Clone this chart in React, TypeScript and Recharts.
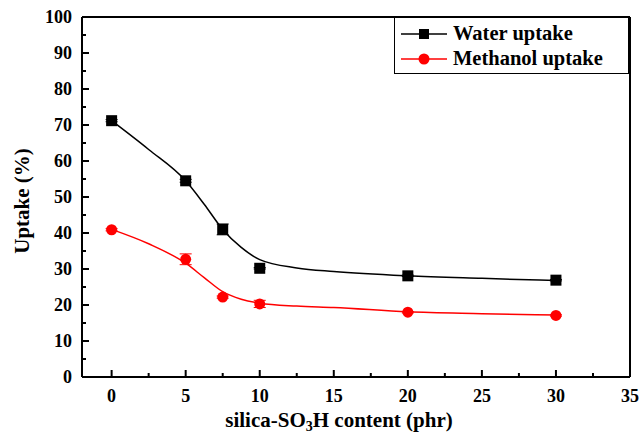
import React from 'react';
import { ComposedChart, Line, Scatter, XAxis, YAxis, ErrorBar, ReferenceLine } from 'recharts';

const contents = [0, 5, 7.5, 10, 20, 30];
const waterUptake = [71.2, 54.5, 41.0, 30.2, 28.1, 26.9];
const waterErr = [0.3, 0.4, 1.5, 0.2, 0.2, 0.2];
const methanolUptake = [40.9, 32.7, 22.2, 20.3, 18.0, 17.1];
const methanolErr = [0.3, 1.5, 0.3, 1.0, 0.2, 0.2];

const fitX = [0, 2.5, 5, 6.25, 7.5, 8.75, 10, 12.5, 15, 20, 25, 30];
const waterFit = [71.2, 63.2, 54.5, 48.0, 41.0, 36.0, 32.6, 30.3, 29.3, 28.1, 27.4, 26.8];
const methanolFit = [41.0, 37.0, 31.6, 27.6, 23.7, 21.6, 20.5, 19.7, 19.3, 18.1, 17.6, 17.2];

const xTicks = [0, 2.5, 5, 7.5, 10, 12.5, 15, 17.5, 20, 22.5, 25, 27.5, 30, 32.5, 35];
const yTicks = [0, 5, 10, 15, 20, 25, 30, 35, 40, 45, 50, 55, 60, 65, 70, 75, 80, 85, 90, 95, 100];

const seriesNames = ['Water uptake', 'Methanol uptake'];

const waterPts = contents.map((x, i) => ({ x, y: waterUptake[i], err: waterErr[i] }));
const methanolPts = contents.map((x, i) => ({ x, y: methanolUptake[i], err: methanolErr[i] }));
const waterFitData = fitX.map((x, i) => ({ x, y: waterFit[i] }));
const methanolFitData = fitX.map((x, i) => ({ x, y: methanolFit[i] }));

const FONT = '"Liberation Serif", "Times New Roman", serif';

const XTick = (props: any) => {
  const { x, y, payload } = props;
  const v = payload.value;
  const major = v % 5 === 0;
  return (
    <g>
      <line x1={x} y1={y} x2={x} y2={y - (major ? 7 : 4)} stroke="#000" strokeWidth={2} />
      {major && (
        <text x={x} y={y + 25} textAnchor="middle" fontFamily={FONT} fontWeight="bold" fontSize={18} fill="#000">
          {v}
        </text>
      )}
    </g>
  );
};

const YTick = (props: any) => {
  const { x, y, payload } = props;
  const v = payload.value;
  const major = v % 10 === 0;
  return (
    <g>
      <line x1={x} y1={y} x2={x + (major ? 7 : 4)} y2={y} stroke="#000" strokeWidth={2} />
      {major && (
        <text x={x - 10} y={y + 6} textAnchor="end" fontFamily={FONT} fontWeight="bold" fontSize={18} fill="#000">
          {v}
        </text>
      )}
    </g>
  );
};

const Square = (props: any) => {
  const { cx, cy } = props;
  return <rect x={cx - 5.5} y={cy - 5.5} width={11} height={11} fill="#000" />;
};
const Dot = (props: any) => {
  const { cx, cy } = props;
  return <circle cx={cx} cy={cy} r={5.5} fill="#ff0000" />;
};

const LegendBox = () => (
  <div
    style={{
      position: 'absolute',
      left: 394,
      top: 17,
      border: '1.5px solid #000',
      background: '#fff',
      width: 235,
      height: 57,
      boxSizing: 'border-box',
      fontFamily: FONT,
      fontWeight: 'bold',
      fontSize: 20.5,
      color: '#000',
      paddingTop: 3,
    }}
  >
    {[
      { name: seriesNames[0], color: '#000', shape: 'square' },
      { name: seriesNames[1], color: '#ff0000', shape: 'circle' },
    ].map((it) => (
      <div key={it.name} style={{ display: 'flex', alignItems: 'center', height: 25 }}>
        <svg width={54} height={20} style={{ marginLeft: 4 }}>
          <line x1={2} y1={10} x2={48} y2={10} stroke={it.color} strokeWidth={1.5} />
          {it.shape === 'square' ? (
            <rect x={20} y={5} width={10} height={10} fill={it.color} />
          ) : (
            <circle cx={25} cy={10} r={5.5} fill={it.color} />
          )}
        </svg>
        <span style={{ lineHeight: '25px' }}>{it.name}</span>
      </div>
    ))}
  </div>
);

const XTitle = () => (
  <text x={339} y={427} textAnchor="middle" fontFamily={FONT} fontWeight="bold" fontSize={21} fill="#000">
    silica-SO
    <tspan fontSize={14} dy={4}>3</tspan>
    <tspan dy={-4}>H content (phr)</tspan>
  </text>
);

const YTitle = () => (
  <text
    x={22}
    y={201}
    transform="rotate(-90 22 201)"
    textAnchor="middle"
    dominantBaseline="central"
    fontFamily={FONT}
    fontWeight="bold"
    fontSize={21}
    fill="#000"
  >
    Uptake (%)
  </text>
);

export default function App() {
  return (
    <div style={{ position: 'absolute', left: 0, top: 0, width: 639, height: 436, background: '#fff' }}>
      <ComposedChart width={639} height={436} margin={{ top: 17, right: 9, bottom: 0, left: 0 }}>
        <XAxis
          dataKey="x"
          type="number"
          domain={[-2, 35]}
          ticks={xTicks}
          interval={0}
          allowDataOverflow
          height={59}
          tickSize={0}
          tickMargin={0}
          tickLine={false}
          axisLine={{ stroke: '#000', strokeWidth: 2 }}
          tick={<XTick />}
          label={<XTitle />}
        />
        <YAxis
          type="number"
          domain={[0, 100]}
          ticks={yTicks}
          interval={0}
          allowDataOverflow
          width={82}
          tickSize={0}
          tickMargin={0}
          tickLine={false}
          axisLine={{ stroke: '#000', strokeWidth: 2 }}
          tick={<YTick />}
          label={<YTitle />}
        />
        <ReferenceLine y={100} stroke="#000" strokeWidth={2} ifOverflow="visible" />
        <ReferenceLine x={35} stroke="#000" strokeWidth={2} ifOverflow="visible" />
        <Line
          data={waterFitData}
          dataKey="y"
          type="monotone"
          stroke="#000"
          strokeWidth={1.5}
          dot={false}
          activeDot={false}
          isAnimationActive={false}
          legendType="none"
        />
        <Line
          data={methanolFitData}
          dataKey="y"
          type="monotone"
          stroke="#ff0000"
          strokeWidth={1.5}
          dot={false}
          activeDot={false}
          isAnimationActive={false}
          legendType="none"
        />
        <Scatter data={waterPts} dataKey="y" name={seriesNames[0]} shape={<Square />} isAnimationActive={false}>
          <ErrorBar dataKey="err" direction="y" width={6} stroke="#000" strokeWidth={1} />
        </Scatter>
        <Scatter data={methanolPts} dataKey="y" name={seriesNames[1]} shape={<Dot />} isAnimationActive={false}>
          <ErrorBar dataKey="err" direction="y" width={6} stroke="#ff0000" strokeWidth={1} />
        </Scatter>
      </ComposedChart>
      <LegendBox />
    </div>
  );
}
